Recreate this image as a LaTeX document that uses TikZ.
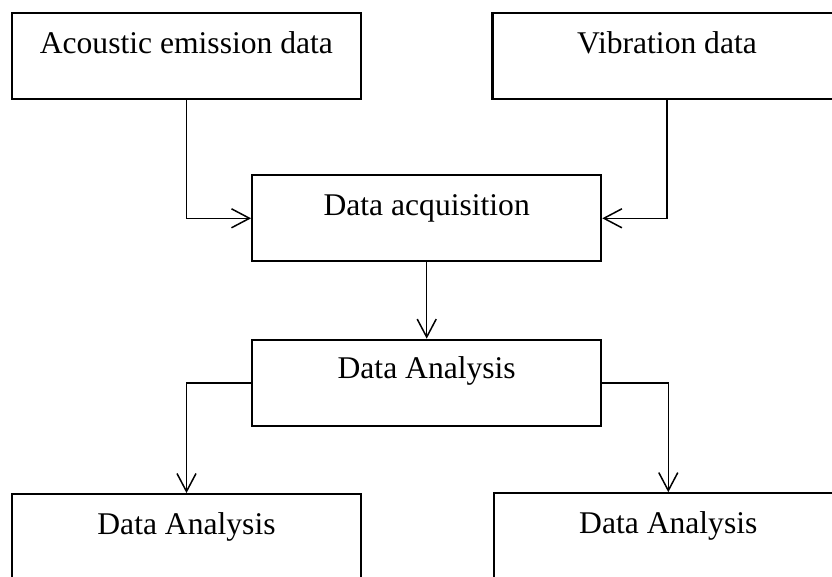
\documentclass[tikz,border=0pt]{standalone}
\usepackage{fontspec}
\setmainfont{Liberation Serif}
\usetikzlibrary{arrows.meta}
\begin{document}
\begin{tikzpicture}[x=0.5pt,y=-0.5pt,
  box/.style={draw=black, line width=1.1pt, rectangle, inner sep=0pt,
              minimum width=174.5pt, minimum height=43pt},
  lbl/.style={anchor=base, inner sep=0pt, font=\fontsize{15.8}{18}\selectfont},
  link/.style={draw=black, line width=0.75pt,
               -{Straight Barb[length=9pt,width=9.5pt]}}]
  \useasboundingbox (0,0) rectangle (832,577);
  \clip (0,0) rectangle (832,577);

  % boxes
  \node[box] (ae)   at (186.4,56)    {};
  \node[box] (vib)  at (667,56)      {};
  \node[box] (acq)  at (426.7,218.3) {};
  \node[box] (ana)  at (426.7,382.8) {};
  \node[box] (outl) at (186.5,537.2) {};
  \node[box] (outr) at (668.3,536.3) {};

  % box captions, set near the top edge
  \node[lbl] (aeT)   at ([yshift=-20.7pt]ae.north)   {Acoustic emission data};
  \node[lbl] (vibT)  at ([yshift=-20.7pt]vib.north)  {Vibration data};
  \node[lbl] (acqT)  at ([yshift=-20.5pt]acq.north)  {Data acquisition};
  \node[lbl] (anaT)  at ([yshift=-20pt]ana.north)    {Data Analysis};
  \node[lbl] (outlT) at ([yshift=-20.8pt]outl.north) {Data Analysis};
  \node[lbl] (outrT) at ([yshift=-20.5pt]outr.north) {Data Analysis};

  % connectors
  \draw[link] (ae.south)  |- (acq.west);
  \draw[link] (vib.south) |- (acq.east);
  \draw[link] (acq.south) -- (ana.north);
  \draw[link] (ana.west)  -| (outl.north);
  \draw[link] (ana.east)  -| (outr.north);
\end{tikzpicture}
\end{document}
